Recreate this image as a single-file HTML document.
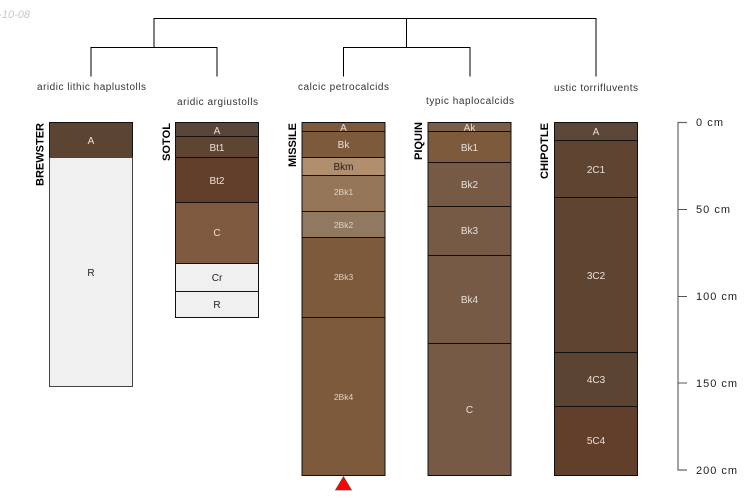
<!DOCTYPE html>
<html>
<head>
<meta charset="utf-8">
<style>
html,body{margin:0;padding:0;background:#fff;width:750px;height:500px;overflow:hidden}
svg{display:block;font-family:"Liberation Sans",sans-serif}
</style>
</head>
<body>
<svg width="750" height="500" viewBox="0 0 750 500" xmlns="http://www.w3.org/2000/svg">
<text x="30" y="18" text-anchor="end" font-size="11" font-style="italic" fill="#c8c8c8">-10-08</text>

<!-- dendrogram -->
<g fill="none" stroke="#000" stroke-width="1">
<path d="M154 47.5V18.5H596V76.5" />
<path d="M91 76.5V47.5H217V76.5" />
<path d="M406.5 18.5V47.5" />
<path d="M343.5 76.5V47.5H470V76.5" />
</g>
<g font-size="10" fill="#333" text-anchor="middle">
<text x="91.5" y="90" textLength="109" lengthAdjust="spacing">aridic lithic haplustolls</text>
<text x="217.5" y="105" textLength="81" lengthAdjust="spacing">aridic argiustolls</text>
<text x="343.5" y="90" textLength="91" lengthAdjust="spacing">calcic petrocalcids</text>
<text x="470" y="104" textLength="88" lengthAdjust="spacing">typic haplocalcids</text>
<text x="596" y="91" textLength="84" lengthAdjust="spacing">ustic torrifluvents</text>
</g>

<!-- Brewster -->
<g stroke="#111" stroke-width="1">
<rect x="49.5" y="122.5" width="83" height="35" fill="#5c4433"/>
<rect x="49.5" y="157.5" width="83" height="229" fill="#f0f0f0" stroke="#444"/>
</g>
<!-- Sotol -->
<g stroke="#111" stroke-width="1">
<rect x="175.5" y="122.5" width="83" height="14" fill="#5a4638"/>
<rect x="175.5" y="136.5" width="83" height="21" fill="#5f4432"/>
<rect x="175.5" y="157.5" width="83" height="45" fill="#623f2a"/>
<rect x="175.5" y="202.5" width="83" height="61" fill="#805a40"/>
<rect x="175.5" y="263.5" width="83" height="28" fill="#f0f0f0"/>
<rect x="175.5" y="291.5" width="83" height="26" fill="#f0f0f0"/>
</g>
<!-- Missile -->
<g stroke="#111" stroke-width="1">
<rect x="302" y="122.5" width="83" height="9" fill="#7d5a3c"/>
<rect x="302" y="131.5" width="83" height="26" fill="#7d5a3c"/>
<rect x="302" y="157.5" width="83" height="18" fill="#b08e6e"/>
<rect x="302" y="175.5" width="83" height="36" fill="#967658"/>
<rect x="302" y="211.5" width="83" height="26" fill="#917860"/>
<rect x="302" y="237.5" width="83" height="80" fill="#7d5a3c"/>
<rect x="302" y="317.5" width="83" height="158" fill="#7d5a3c"/>
</g>
<!-- Piquin -->
<g stroke="#111" stroke-width="1">
<rect x="428" y="122.5" width="83" height="9" fill="#7a5e48"/>
<rect x="428" y="131.5" width="83" height="31" fill="#7d5a3c"/>
<rect x="428" y="162.5" width="83" height="44" fill="#765a45"/>
<rect x="428" y="206.5" width="83" height="49" fill="#765a45"/>
<rect x="428" y="255.5" width="83" height="88" fill="#765a45"/>
<rect x="428" y="343.5" width="83" height="132" fill="#765a45"/>
</g>
<!-- Chipotle -->
<g stroke="#111" stroke-width="1">
<rect x="554.5" y="122.5" width="83" height="18" fill="#5c4638"/>
<rect x="554.5" y="140.5" width="83" height="57" fill="#5f4432"/>
<rect x="554.5" y="197.5" width="83" height="155" fill="#5f4432"/>
<rect x="554.5" y="352.5" width="83" height="54" fill="#5c4433"/>
<rect x="554.5" y="406.5" width="83" height="69" fill="#623f2a"/>
</g>

<!-- horizon labels -->
<g font-size="10" fill="#e6e0da" text-anchor="middle">
<text x="91" y="144">A</text>
<text x="217" y="134">A</text>
<text x="217" y="151">Bt1</text>
<text x="217" y="184">Bt2</text>
<text x="217" y="236">C</text>
<text x="343.5" y="131">A</text>
<text x="343.5" y="148">Bk</text>
<text x="469.5" y="131">Ak</text>
<text x="469.5" y="151">Bk1</text>
<text x="469.5" y="188">Bk2</text>
<text x="469.5" y="234">Bk3</text>
<text x="469.5" y="303">Bk4</text>
<text x="469.5" y="413">C</text>
<text x="596" y="135">A</text>
<text x="596" y="173">2C1</text>
<text x="596" y="279">3C2</text>
<text x="596" y="383">4C3</text>
<text x="596" y="444">5C4</text>
</g>
<g font-size="8.5" fill="#ddd4cc" text-anchor="middle">
<text x="343.5" y="195">2Bk1</text>
<text x="343.5" y="228">2Bk2</text>
<text x="343.5" y="280">2Bk3</text>
<text x="343.5" y="400">2Bk4</text>
</g>
<g font-size="10" fill="#222" text-anchor="middle">
<text x="91" y="276">R</text>
<text x="217" y="281">Cr</text>
<text x="217" y="308">R</text>
<text x="343.5" y="170">Bkm</text>
</g>

<!-- profile names -->
<g font-size="11" font-weight="bold" fill="#000">
<text transform="translate(43.5,186) rotate(-90)" textLength="63" lengthAdjust="spacingAndGlyphs">BREWSTER</text>
<text transform="translate(170,161) rotate(-90)" textLength="38" lengthAdjust="spacingAndGlyphs">SOTOL</text>
<text transform="translate(296,167) rotate(-90)" textLength="44" lengthAdjust="spacingAndGlyphs">MISSILE</text>
<text transform="translate(422,160) rotate(-90)" textLength="38" lengthAdjust="spacingAndGlyphs">PIQUIN</text>
<text transform="translate(548,179) rotate(-90)" textLength="56" lengthAdjust="spacingAndGlyphs">CHIPOTLE</text>
</g>

<!-- red marker -->
<path d="M343.5 476.5L351.5 490H335.5Z" fill="#f00" stroke="#555" stroke-width="0.7"/>

<!-- depth axis -->
<path d="M687 122.5H678V470H687" fill="none" stroke="#666" stroke-width="1.2"/>
<path d="M678 209.5H687M678 296.5H687M678 383H687" fill="none" stroke="#555" stroke-width="1"/>
<g font-size="11" fill="#222">
<text x="696" y="126" textLength="27">0 cm</text>
<text x="696" y="213" textLength="34">50 cm</text>
<text x="696" y="300" textLength="41">100 cm</text>
<text x="696" y="387" textLength="41">150 cm</text>
<text x="696" y="474" textLength="41">200 cm</text>
</g>
</svg>
</body>
</html>
